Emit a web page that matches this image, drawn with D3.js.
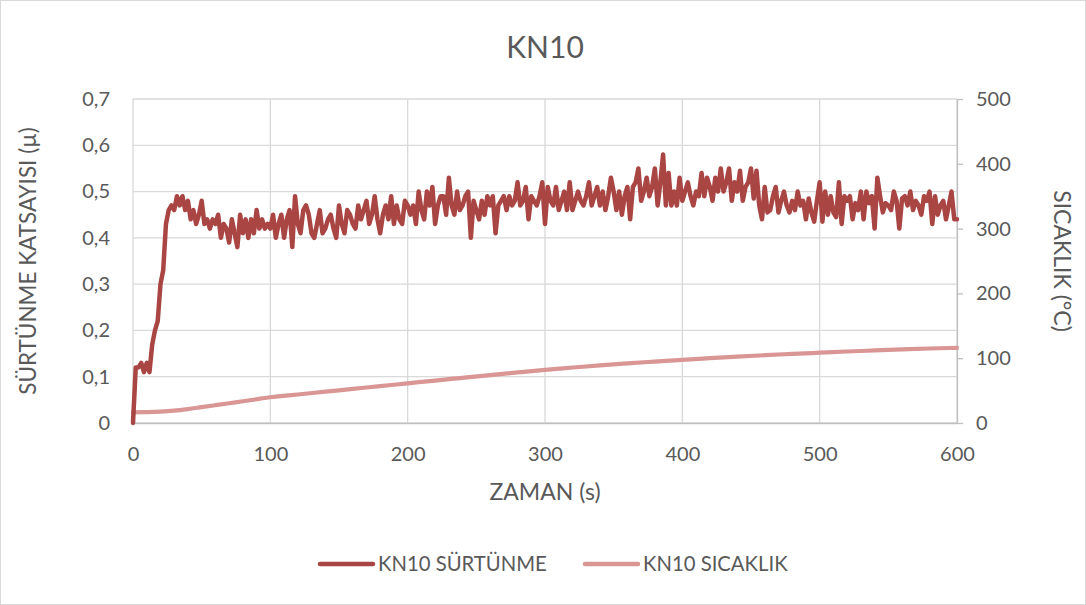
<!DOCTYPE html>
<html>
<head>
<meta charset="utf-8">
<script src="https://cdn.jsdelivr.net/npm/d3@7"></script>
<style>
  html, body { margin: 0; padding: 0; background: #fff; }
  svg { display: block; }
  text { font-family: Lato, "Open Sans", sans-serif; fill: #595959; }
</style>
</head>
<body>
<svg id="chart" width="1086" height="605"></svg>
<script>
// Friction coefficient, sampled every 2 s from 0 to 600 s
const frictionStep = 2;
const friction = [
  0.00, 0.12, 0.12, 0.13, 0.11, 0.13, 0.11, 0.17, 0.20, 0.22,
  0.30, 0.33, 0.43, 0.46, 0.47, 0.46, 0.49, 0.47, 0.49, 0.46,
  0.48, 0.44, 0.46, 0.43, 0.45, 0.48, 0.43, 0.44, 0.42, 0.44,
  0.43, 0.45, 0.40, 0.43, 0.42, 0.39, 0.44, 0.41, 0.38, 0.45,
  0.41, 0.44, 0.40, 0.44, 0.41, 0.46, 0.42, 0.44, 0.42, 0.43,
  0.42, 0.45, 0.40, 0.43, 0.45, 0.40, 0.44, 0.46, 0.38, 0.49,
  0.43, 0.41, 0.46, 0.47, 0.45, 0.41, 0.40, 0.43, 0.46, 0.41,
  0.42, 0.44, 0.45, 0.42, 0.40, 0.47, 0.43, 0.41, 0.46, 0.45,
  0.43, 0.42, 0.47, 0.44, 0.46, 0.48, 0.43, 0.45, 0.49, 0.44,
  0.41, 0.45, 0.47, 0.44, 0.49, 0.43, 0.47, 0.44, 0.43, 0.48,
  0.47, 0.45, 0.47, 0.43, 0.50, 0.46, 0.44, 0.50, 0.47, 0.51,
  0.43, 0.47, 0.49, 0.49, 0.45, 0.53, 0.47, 0.45, 0.50, 0.46,
  0.47, 0.49, 0.50, 0.40, 0.48, 0.46, 0.44, 0.48, 0.45, 0.49,
  0.47, 0.49, 0.41, 0.47, 0.48, 0.49, 0.46, 0.49, 0.47, 0.48,
  0.52, 0.47, 0.48, 0.51, 0.44, 0.49, 0.48, 0.47, 0.49, 0.52,
  0.43, 0.51, 0.48, 0.47, 0.51, 0.46, 0.48, 0.50, 0.46, 0.52,
  0.46, 0.48, 0.50, 0.48, 0.47, 0.49, 0.52, 0.47, 0.49, 0.51,
  0.47, 0.50, 0.46, 0.49, 0.53, 0.50, 0.46, 0.50, 0.45, 0.49,
  0.51, 0.44, 0.51, 0.52, 0.55, 0.48, 0.50, 0.53, 0.49, 0.51,
  0.55, 0.47, 0.52, 0.58, 0.47, 0.54, 0.47, 0.50, 0.47, 0.53,
  0.48, 0.50, 0.52, 0.49, 0.47, 0.50, 0.49, 0.54, 0.49, 0.53,
  0.51, 0.48, 0.53, 0.50, 0.55, 0.50, 0.52, 0.55, 0.48, 0.52,
  0.50, 0.545, 0.48, 0.51, 0.52, 0.55, 0.485, 0.545, 0.47, 0.44,
  0.51, 0.455, 0.46, 0.49, 0.51, 0.455, 0.48, 0.50, 0.47, 0.455,
  0.48, 0.46, 0.50, 0.47, 0.48, 0.44, 0.485, 0.455, 0.435, 0.48,
  0.52, 0.435, 0.50, 0.45, 0.49, 0.455, 0.445, 0.52, 0.43, 0.49,
  0.48, 0.49, 0.44, 0.475, 0.46, 0.50, 0.44, 0.50, 0.475, 0.49,
  0.42, 0.53, 0.49, 0.455, 0.475, 0.47, 0.46, 0.50, 0.48, 0.42,
  0.485, 0.49, 0.47, 0.50, 0.46, 0.48, 0.47, 0.45, 0.49, 0.48,
  0.50, 0.43, 0.49, 0.45, 0.47, 0.48, 0.44, 0.47, 0.50, 0.44,
  0.44
];

// Temperature (°C) at the listed times (s)
const tempTime = [0, 10, 20, 30, 40, 50, 60, 70, 80, 90, 100, 120, 140, 160, 180, 200,
  220, 240, 260, 280, 300, 320, 340, 360, 380, 400, 420, 440, 460, 480, 500,
  520, 540, 560, 580, 600];
const temperature = [16.5, 16.8, 17.5, 19, 21.5, 24.5, 27.5, 30.5, 33.5, 36.7, 39.7,
  44, 48.3, 52.6, 56.9, 61.2, 65.5, 69.7, 73.9, 78, 82, 85.6, 89, 92, 94.8, 97.5,
  100, 102.4, 104.6, 106.6, 108.5, 110.3, 112, 113.6, 115, 116];

const xTicks = [0, 100, 200, 300, 400, 500, 600];
const leftTicks = [0, 0.1, 0.2, 0.3, 0.4, 0.5, 0.6, 0.7];
const rightTicks = [0, 100, 200, 300, 400, 500];

const seriesNames = ["KN10 SÜRTÜNME", "KN10 SICAKLIK"];
const seriesColors = ["#a94543", "#d99694"];

const W = 1086, H = 605;
const plot = { left: 133, right: 957, top: 99, bottom: 423 };

const svg = d3.select("#chart");

// Outer chart frame
svg.append("rect")
  .attr("x", 0.5).attr("y", 0.5)
  .attr("width", W - 1).attr("height", H - 1)
  .attr("fill", "#fff").attr("stroke", "#d9d9d9");

const x = d3.scaleLinear().domain([0, 600]).range([plot.left, plot.right]);
const yL = d3.scaleLinear().domain([0, 0.7]).range([plot.bottom, plot.top]);
const yR = d3.scaleLinear().domain([0, 500]).range([plot.bottom, plot.top]);

const comma = d3.formatLocale({ decimal: ",", thousands: ".", grouping: [3], currency: ["", ""] });
const fmtLeft = d => d === 0 ? "0" : comma.format(".1f")(d);

// Grid
const grid = svg.append("g").attr("stroke", "#d9d9d9").attr("stroke-width", 1.3);
grid.selectAll("line.h").data(leftTicks).join("line")
  .attr("x1", plot.left).attr("x2", plot.right)
  .attr("y1", d => yL(d)).attr("y2", d => yL(d));
grid.selectAll("line.v").data(xTicks).join("line")
  .attr("y1", plot.top).attr("y2", plot.bottom)
  .attr("x1", d => x(d)).attr("x2", d => x(d));

// Axes
const axisStyle = g => {
  g.select(".domain").attr("stroke", "#bfbfbf").attr("stroke-width", 1.3);
  g.selectAll(".tick line").attr("stroke", "#bfbfbf").attr("stroke-width", 1.3);
  g.selectAll(".tick text").attr("fill", "#595959")
    .style("font-family", "Lato, 'Open Sans', sans-serif").style("font-size", "20px");
};

svg.append("g")
  .attr("transform", `translate(0,${plot.bottom})`)
  .call(d3.axisBottom(x).tickValues(xTicks).tickSize(0).tickPadding(24))
  .call(axisStyle);

svg.append("g")
  .attr("transform", `translate(${plot.left},0)`)
  .call(d3.axisLeft(yL).tickValues(leftTicks).tickFormat(fmtLeft).tickSize(0).tickPadding(23))
  .call(axisStyle)
  .call(g => g.select(".domain").remove());

svg.append("g")
  .attr("transform", `translate(${plot.right},0)`)
  .call(d3.axisRight(yR).tickValues(rightTicks).tickSize(6).tickSizeOuter(0).tickPadding(13))
  .call(axisStyle);

// Series lines
const fricPts = friction.map((v, i) => [i * frictionStep, v]);
const tempPts = tempTime.map((t, i) => [t, temperature[i]]);

svg.append("path")
  .datum(tempPts)
  .attr("fill", "none")
  .attr("stroke", seriesColors[1])
  .attr("stroke-width", 4.2)
  .attr("stroke-linejoin", "round").attr("stroke-linecap", "round")
  .attr("d", d3.line().x(d => x(d[0])).y(d => yR(d[1])).curve(d3.curveMonotoneX));

svg.append("path")
  .datum(fricPts)
  .attr("fill", "none")
  .attr("stroke", seriesColors[0])
  .attr("stroke-width", 4.5)
  .attr("stroke-linejoin", "round").attr("stroke-linecap", "round")
  .attr("d", d3.line().x(d => x(d[0])).y(d => yL(d[1])));

// Titles
svg.append("text")
  .attr("x", 545).attr("y", 58)
  .attr("text-anchor", "middle")
  .style("font-size", "30px")
  .text("KN10");

svg.append("text")
  .attr("x", (plot.left + plot.right) / 2).attr("y", 500)
  .attr("text-anchor", "middle")
  .style("font-size", "23px")
  .text("ZAMAN (s)");

svg.append("text")
  .attr("transform", `translate(36,${(plot.top + plot.bottom) / 2}) rotate(-90)`)
  .attr("text-anchor", "middle")
  .style("font-size", "22.5px")
  .text("SÜRTÜNME KATSAYISI (µ)");

svg.append("text")
  .attr("transform", `translate(1054,${(plot.top + plot.bottom) / 2}) rotate(90)`)
  .attr("text-anchor", "middle")
  .style("font-size", "23px")
  .text("SICAKLIK (°C)");

// Legend
const legendX = [320, 585];
const legend = svg.append("g");
seriesNames.forEach((name, i) => {
  legend.append("line")
    .attr("x1", legendX[i]).attr("x2", legendX[i] + 53)
    .attr("y1", 564).attr("y2", 564)
    .attr("stroke", seriesColors[i]).attr("stroke-width", 4.5)
    .attr("stroke-linecap", "round");
  legend.append("text")
    .attr("x", legendX[i] + 58).attr("y", 571)
    .style("font-size", "20.3px")
    .text(name);
});
</script>
</body>
</html>
